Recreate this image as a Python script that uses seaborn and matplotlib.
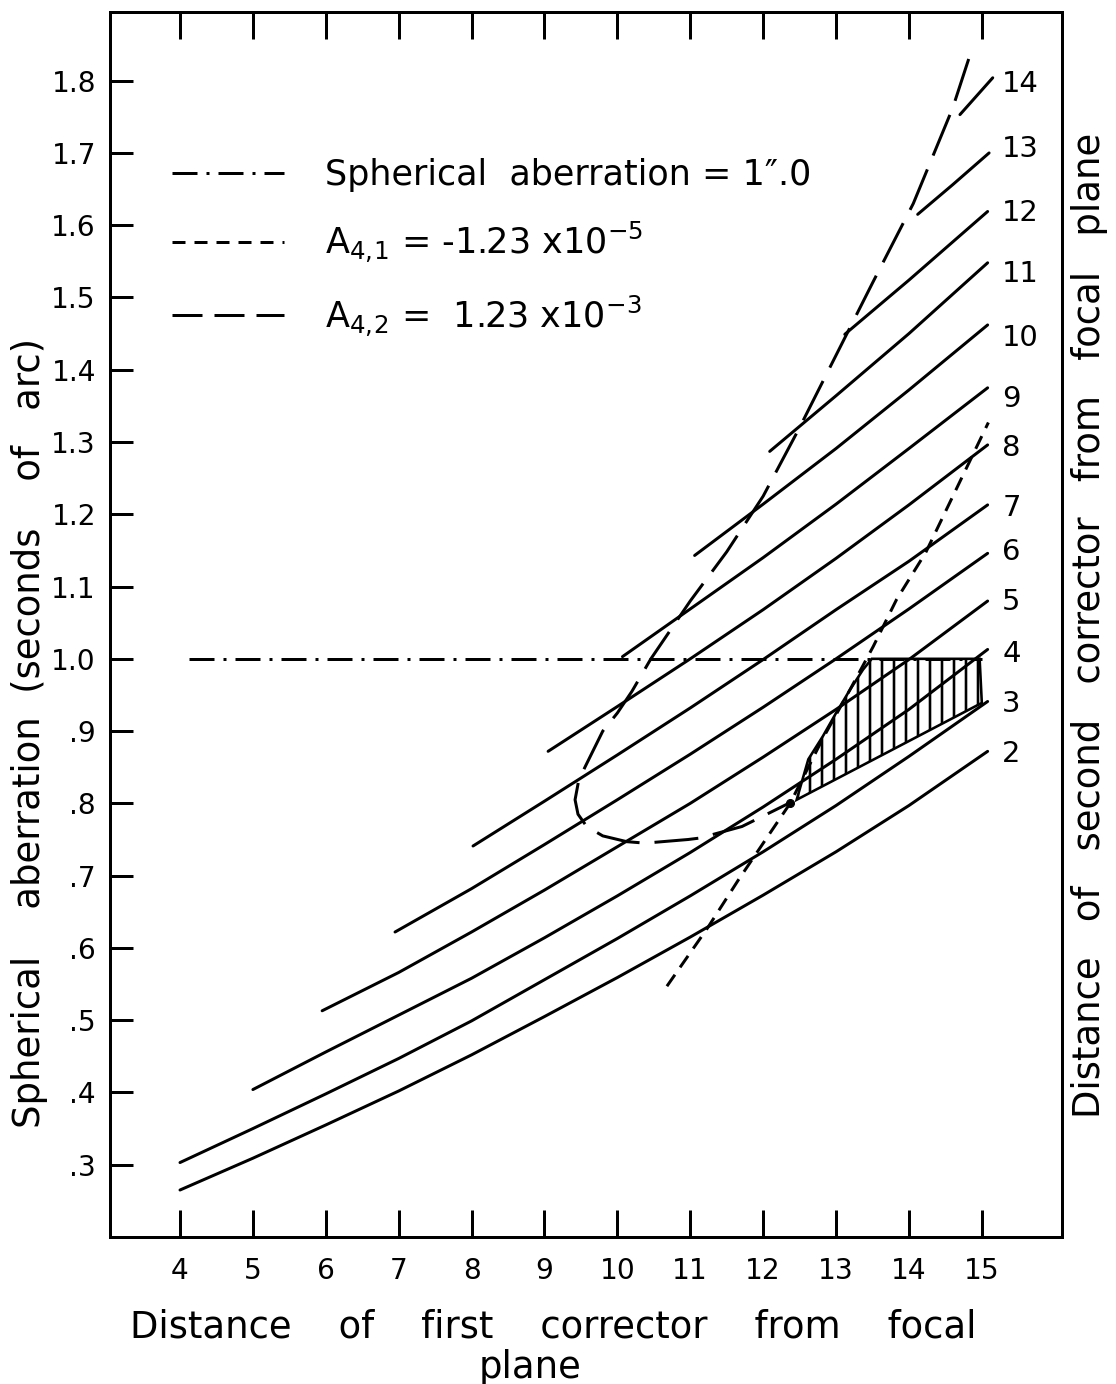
import numpy as np
import pandas as pd
import matplotlib
matplotlib.use("Agg")
import matplotlib.pyplot as plt
from matplotlib.lines import Line2D
import seaborn as sns

# ---------------- data ----------------
curve_ids = [2, 3, 4, 5, 6, 7, 8, 9, 10, 11, 12, 13, 14]
c2_x = [4, 5, 6, 7, 8, 9, 10, 11, 12, 13, 14, 15.08]
c2_y = [.265, .309, .355, .402, .452, .505, .559, .615, .673, .733, .797, .872]
c3_x = [4, 5, 6, 7, 8, 9, 10, 11, 12, 13, 14, 15.08]
c3_y = [.303, .350, .398, .447, .499, .556, .613, .672, .733, .797, .865, .941]
c4_x = [5, 6, 7, 8, 9, 10, 11, 12, 13, 14, 15.08]
c4_y = [.404, .456, .507, .558, .614, .672, .732, .795, .861, .930, 1.013]
c5_x = [5.95, 7, 8, 9, 10, 11, 12, 13, 14, 15.08]
c5_y = [.513, .566, .622, .680, .740, .800, .864, .930, .999, 1.080]
c6_x = [6.95, 8, 9, 10, 11, 12, 13, 14, 15.08]
c6_y = [.622, .682, .743, .805, .868, .933, 1.000, 1.069, 1.146]
c7_x = [8.02, 9, 10, 11, 12, 13, 14, 15.08]
c7_y = [.741, .803, .867, .932, .999, 1.068, 1.135, 1.213]
c8_x = [9.05, 10, 11, 12, 13, 14, 15.08]
c8_y = [.872, .934, 1.000, 1.068, 1.139, 1.213, 1.296]
c9_x = [10.07, 11, 12, 13, 14, 15.08]
c9_y = [1.003, 1.069, 1.140, 1.214, 1.291, 1.375]
c10_x = [11.06, 12, 13, 14, 15.08]
c10_y = [1.143, 1.214, 1.291, 1.372, 1.462]
c11_x = [12.09, 13, 14, 15.08]
c11_y = [1.287, 1.364, 1.450, 1.548]
c12_x = [13.12, 14, 15.08]
c12_y = [1.449, 1.524, 1.619]
c13_x = [14.12, 14.6, 15.1]
c13_y = [1.615, 1.656, 1.700]
c14_x = [14.70, 15.15]
c14_y = [1.753, 1.804]

curve_x = [c2_x, c3_x, c4_x, c5_x, c6_x, c7_x, c8_x, c9_x, c10_x, c11_x, c12_x, c13_x, c14_x]
curve_y = [c2_y, c3_y, c4_y, c5_y, c6_y, c7_y, c8_y, c9_y, c10_y, c11_y, c12_y, c13_y, c14_y]

# right-hand curve labels (y position of each number)
label_y = [0.869, 0.937, 1.006, 1.079, 1.148, 1.209, 1.292, 1.36, 1.444, 1.532, 1.617, 1.705, 1.796]

# spherical aberration = 1.0 line
sa_x = [4.12, 15.0]
sa_y = [1.0, 1.0]

# A4,1 (short dashes)
a41_x = [10.68, 11.24, 11.66, 12.37, 12.82, 13.19, 13.51, 13.83, 14.23, 15.09]
a41_y = [0.547, 0.628, 0.694, 0.800, 0.890, 0.957, 1.017, 1.082, 1.147, 1.327]

# A4,2 (long dashes) - a looped curve, traced in order
a42_x = [14.82, 14.60, 14.06, 13.50, 13.00, 12.50, 12.00, 11.50, 11.00, 10.46, 10.20,
         10.00, 9.80, 9.56, 9.47, 9.42, 9.46, 9.58, 9.80, 10.13, 10.38, 10.97, 11.13,
         11.71, 11.85, 12.37]
a42_y = [1.830, 1.762, 1.630, 1.520, 1.420, 1.320, 1.225, 1.148, 1.080, 1.000, 0.955,
         0.925, 0.900, 0.851, 0.832, 0.805, 0.785, 0.768, 0.755, 0.747, 0.745, 0.750, 0.752,
         0.768, 0.775, 0.801]

# hatched (permissible) region outline
hatch_x = [12.46, 12.62, 12.82, 13.00, 13.19, 13.37, 13.49, 14.97, 15.0, 12.46]
hatch_y = [0.805, 0.861, 0.893, 0.925, 0.957, 0.985, 1.000, 1.000, 0.939, 0.805]

dot_x = [12.37]
dot_y = [0.800]

x_ticks = [4, 5, 6, 7, 8, 9, 10, 11, 12, 13, 14, 15]
y_ticks = [0.3, 0.4, 0.5, 0.6, 0.7, 0.8, 0.9, 1.0, 1.1, 1.2, 1.3, 1.4, 1.5, 1.6, 1.7, 1.8]
y_tick_labels = ['.3', '.4', '.5', '.6', '.7', '.8', '.9', '1.0', '1.1', '1.2', '1.3',
                 '1.4', '1.5', '1.6', '1.7', '1.8']

legend_labels = ["Spherical  aberration = 1\u2033.0",
                 r"A$_{4,\!1}$ = -1.23 x10$^{-5}$",
                 r"A$_{4,\!2}$ =  1.23 x10$^{-3}$"]

# ---------------- styling ----------------
sns.set_theme(style="white")
plt.rcParams['font.family'] = ['DejaVu Sans']
plt.rcParams['lines.scale_dashes'] = False
plt.rcParams['hatch.linewidth'] = 2.6
plt.rcParams['hatch.color'] = 'black'
for k in ['text.color', 'axes.labelcolor', 'xtick.color', 'ytick.color', 'axes.edgecolor']:
    plt.rcParams[k] = 'black'

DPI = 72
fig = plt.figure(figsize=(1116 / DPI, 1384 / DPI), dpi=DPI)
L, R, T, B = 110, 1062, 12, 1237
ax = fig.add_axes([L / 1116, 1 - B / 1384, (R - L) / 1116, (B - T) / 1384])
ax.set_facecolor('white')

LW = 3.0
ink = 'black'

# solid curves
rows = []
for cid, xs, ys in zip(curve_ids, curve_x, curve_y):
    for xv, yv in zip(xs, ys):
        rows.append({'curve': cid, 'x': xv, 'y': yv})
df = pd.DataFrame(rows)
sns.lineplot(data=df, x='x', y='y', units='curve', estimator=None, sort=False,
             color=ink, linewidth=LW, ax=ax, legend=False)

# hatched region
ax.fill(hatch_x, hatch_y, facecolor='none', edgecolor=ink, hatch='|', linewidth=2.6)

# reference lines / dashed constraint curves
sns.lineplot(x=sa_x, y=sa_y, sort=False, estimator=None, color=ink, linewidth=LW,
             linestyle=(0, (25, 9, 3, 9)), ax=ax)
sns.lineplot(x=a41_x, y=a41_y, sort=False, estimator=None, color=ink, linewidth=LW,
             linestyle=(0, (14, 9)), ax=ax)
sns.lineplot(x=a42_x, y=a42_y, sort=False, estimator=None, color=ink, linewidth=LW,
             linestyle=(0, (44, 15)), ax=ax)
ax.plot(dot_x, dot_y, 'o', color=ink, markersize=8)

# curve number labels
for cid, ly in zip(curve_ids, label_y):
    ax.text(15.28, ly, str(cid), fontsize=29, ha='left', va='center', color=ink)

# axes limits / ticks
ax.set_xlim(3.04, 16.10)
ax.set_ylim(0.200, 1.895)
ax.set_xticks(x_ticks)
ax.set_xticklabels([str(v) for v in x_ticks])
ax.set_yticks(y_ticks)
ax.set_yticklabels(y_tick_labels)
ax.tick_params(axis='x', direction='in', length=27, width=3, top=True, bottom=True,
               labeltop=False, labelsize=28, pad=20, colors=ink)
ax.tick_params(axis='y', direction='in', length=23, width=3, left=True, right=False,
               labelsize=28, pad=14, colors=ink)
for s in ax.spines.values():
    s.set_linewidth(3)
    s.set_color(ink)
    s.set_visible(True)
ax.set_xlabel('')
ax.set_ylabel('')

# legend
handles = [Line2D([], [], color=ink, lw=LW, linestyle=(0, (25, 9, 3, 9))),
           Line2D([], [], color=ink, lw=LW, linestyle=(0, (13, 9))),
           Line2D([], [], color=ink, lw=LW, linestyle=(0, (30, 12)))]
leg = ax.legend(handles, legend_labels, loc='upper left', bbox_to_anchor=(0.065, 0.881),
                frameon=False, fontsize=35, handlelength=3.2, handletextpad=1.17,
                labelspacing=0.8, borderpad=0, borderaxespad=0)
for t in leg.get_texts():
    t.set_color(ink)

# axis titles
fig.text(30 / 1116, 1 - 733 / 1384, "Spherical    aberration  (seconds    of   arc)",
         rotation=90, ha='center', va='center', fontsize=37, color=ink)
fig.text(1090 / 1116, 1 - 625 / 1384,
         "Distance   of   second   corrector   from   focal   plane",
         rotation=90, ha='center', va='center', fontsize=37, color=ink)
fig.text(553 / 1116, 1 - 1327 / 1384,
         "Distance    of    first    corrector    from    focal",
         ha='center', va='center', fontsize=37, color=ink)
fig.text(530 / 1116, 1 - 1368 / 1384, "plane", ha='center', va='center',
         fontsize=37, color=ink)

fig.savefig("out.png", dpi=DPI, facecolor='white')
